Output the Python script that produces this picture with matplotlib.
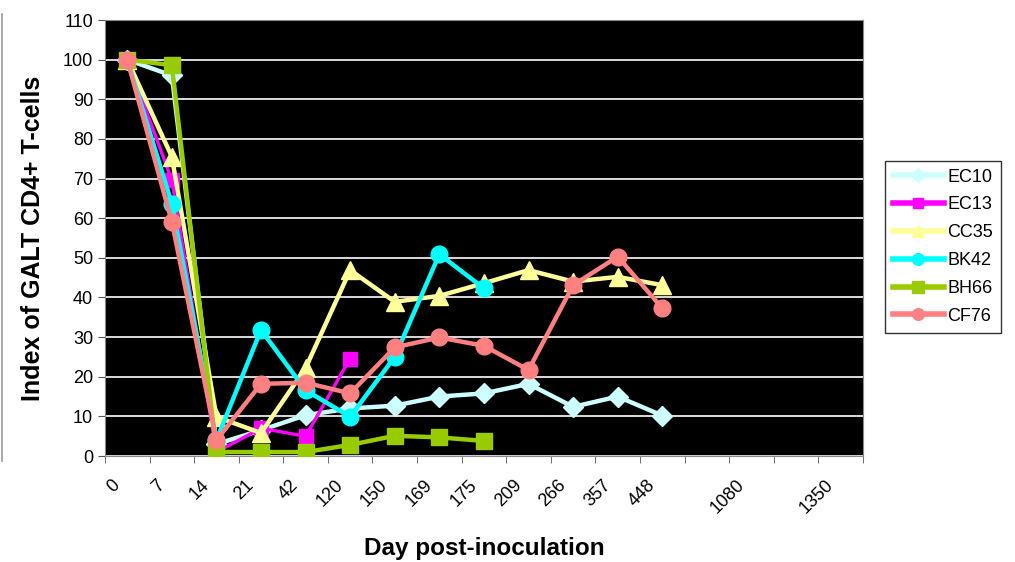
import matplotlib
matplotlib.use("Agg")
import matplotlib.pyplot as plt
from matplotlib.lines import Line2D

plt.rcParams['font.family'] = ['Liberation Sans', 'DejaVu Sans']

# categories (Excel-style category axis, two unlabeled slots)
day_labels = ['0', '7', '14', '21', '42', '120', '150', '169', '175', '209',
              '266', '357', '448', '', '1080', '', '1350']

ec10 = [100, 96, 3, 6.5, 10.3, 12, 12.7, 15, 15.8, 18.2, 12.4, 15, 10.2]
ec13 = [100, 69.6, 1, 7, 5, 24.6]
cc35 = [100, 75.5, 9.9, 5.8, 22.2, 46.9, 38.9, 40.4, 43.6, 46.9, 44, 45.2, 43.1]
bk42 = [100, 63.7, 4, 31.8, 16.6, 9.9, 25, 50.9, 42.3]
bh66 = [100, 98.6, 1, 1, 1, 2.8, 5.1, 4.7, 3.8]
cf76 = [100, 59.1, 4, 18.2, 18.5, 15.8, 27.4, 29.9, 27.8, 21.7, 43.1, 50.3, 37.3]

series = [
    ('EC10', ec10, '#CCFFFF', 'D', 10, 3.2),
    ('EC13', ec13, '#FF00FF', 's', 10.5, 2.4),
    ('CC35', cc35, '#FFFF99', '^', 13, 3.2),
    ('BK42', bk42, '#00FFFF', 'o', 12, 3.2),
    ('BH66', bh66, '#99CC00', 's', 12, 3.2),
    ('CF76', cf76, '#FF8080', 'o', 12, 3.2),
]

fig = plt.figure(figsize=(10.15, 5.62), dpi=100)
ax = fig.add_axes([0.1034, 0.1886, 0.7468, 0.7758])
ax.set_facecolor('black')

for name, vals, col, mk, ms, lw in series:
    ax.plot(range(len(vals)), vals, color=col, lw=lw, marker=mk, ms=ms,
            mfc=col, mec=col, label=name, zorder=3)

ax.set_xlim(-0.5, len(day_labels) - 0.5)
ax.set_ylim(0, 110)
ax.set_yticks(range(0, 111, 10))
ax.yaxis.grid(True, color='white', lw=1.2)
ax.set_axisbelow(True)

# rotated labels end a bit left of the category centre (like Excel)
label_off = 0.35
ax.set_xticks([i - label_off for i in range(len(day_labels))])
ax.set_xticklabels(day_labels, rotation=45, ha='right', va='top',
                   rotation_mode='anchor')
ax.set_xticks([i - 0.5 for i in range(len(day_labels) + 1)], minor=True)
ax.tick_params(axis='x', which='major', length=0, pad=15, labelsize=13)
ax.tick_params(axis='x', which='minor', length=5, color='#555555')
ax.tick_params(axis='y', length=5, labelsize=13, color='#555555')

for s in ax.spines.values():
    s.set_color('#888888')

ax.set_ylabel('Index of GALT CD4+ T-cells', fontsize=18, fontweight='bold')
ax.yaxis.set_label_coords(-0.095, 0.5)
ax.yaxis.label.set_va('center')
ax.set_xlabel('Day post-inoculation', fontsize=17.5, fontweight='bold')
ax.xaxis.set_label_coords(0.5, -0.213)
ax.xaxis.label.set_va('center')

leg = ax.legend(loc='center left', bbox_to_anchor=(1.029, 0.48), fontsize=13,
                frameon=True, fancybox=False, edgecolor='black',
                handlelength=2.8, handletextpad=0.2, labelspacing=0.6,
                borderpad=0.45, borderaxespad=0, markerscale=0.7)
leg.get_frame().set_linewidth(1.0)
for h in leg.legend_handles:
    h.set_linewidth(4)

# thin grey border left over at the far left edge
fig.add_artist(Line2D([0.002, 0.002], [0.18, 0.975], color='#999999', lw=1.2))

fig.savefig('out.png', dpi=100, facecolor='white')
